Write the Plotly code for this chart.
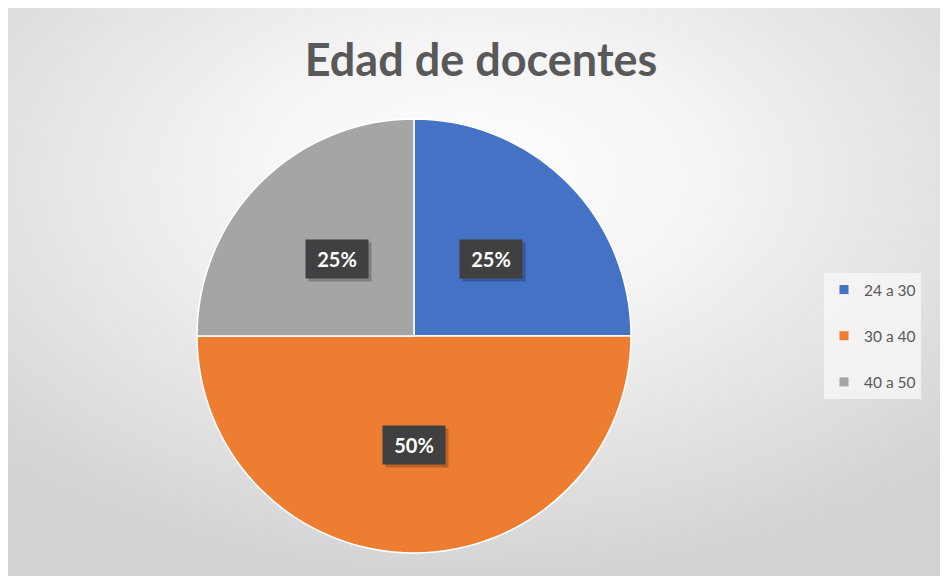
import base64
import math
import plotly.graph_objects as go

# Data
categories = ["24 a 30", "30 a 40", "40 a 50"]
values = [25, 50, 25]
colors = ["#4472C4", "#ED7D31", "#A5A5A5"]
title_text = "Edad de docentes"

# The page body has an 8px margin; work in screen pixels and shift by it.
OFF = 8
W, H = 940, 572


def fx(sx):
    return (sx - OFF) / W


def fy(sy):
    return 1 - (sy - OFF) / H


dom_x = [fx(197), fx(631)]
dom_y = [fy(553), fy(119)]

fig = go.Figure()
fig.add_trace(go.Pie(
    labels=categories, values=values, sort=False, direction="clockwise", rotation=0,
    marker=dict(colors=colors, line=dict(color="#ffffff", width=1.5)),
    textinfo="none", hoverinfo="label+percent", showlegend=False,
    domain=dict(x=dom_x, y=dom_y),
))

# Legend entries (one group each, for spacing)
for cat, col in zip(categories, colors):
    fig.add_trace(go.Scatter(
        x=[None], y=[None], mode="markers", name=cat, legendgroup=cat,
        marker=dict(symbol="square", size=9, color=col),
    ))

# Percentage labels computed from data
total = sum(values)
cx_px = (dom_x[0] + dom_x[1]) / 2 * W
cy_px = (1 - (dom_y[0] + dom_y[1]) / 2) * H
r_px = (dom_x[1] - dom_x[0]) * W / 2
cum = 0
annotations = []
for v in values:
    mid = (cum + v / 2) / total * 2 * math.pi
    cum += v
    px = cx_px + 0.5 * r_px * math.sin(mid)
    py = cy_px - 0.5 * r_px * math.cos(mid)
    txt = f"{round(v / total * 100)}%"
    common = dict(x=px / W, y=1 - py / H, xref="paper", yref="paper", showarrow=False,
                  xanchor="center", yanchor="middle", width=46, height=22, borderpad=8)
    annotations.append(dict(common, text="&nbsp;", bgcolor="rgba(0,0,0,0.22)", xshift=3, yshift=-3,
                            font=dict(family="Lato", size=20, color="rgba(0,0,0,0)")))
    annotations.append(dict(common, text=f"<b>{txt}</b>", bgcolor="#404040",
                            font=dict(family="Lato", size=20, color="#ffffff")))

svg = ('<svg xmlns="http://www.w3.org/2000/svg" width="940" height="569">'
       '<defs><radialGradient id="g" cx="50%" cy="30%" r="72%">'
       '<stop offset="0" stop-color="#ffffff"/><stop offset="0.35" stop-color="#f4f4f4"/>'
       '<stop offset="1" stop-color="#d2d2d2"/></radialGradient></defs>'
       '<rect width="940" height="569" fill="url(#g)"/></svg>')
src = "data:image/svg+xml;base64," + base64.b64encode(svg.encode()).decode()

fig.update_layout(
    width=W, height=H, margin=dict(l=0, r=0, t=0, b=0),
    paper_bgcolor="#ffffff", plot_bgcolor="rgba(0,0,0,0)",
    xaxis=dict(visible=False), yaxis=dict(visible=False),
    title=dict(text=f"<b>{title_text}</b>", x=fx(481), y=fy(60), xanchor="center", yanchor="middle",
               font=dict(family="Lato", size=45, color="#595959")),
    legend=dict(x=fx(824), y=fy(273), xanchor="left", yanchor="top",
                bgcolor="rgba(246,246,246,0.85)", font=dict(family="Lato", size=15.5, color="#595959"),
                traceorder="grouped", tracegroupgap=23, itemclick=False, itemdoubleclick=False),
    annotations=annotations,
    images=[dict(source=src, xref="paper", yref="paper", x=fx(4), y=fy(7),
                 sizex=940 / W, sizey=569 / H, sizing="stretch", layer="below",
                 xanchor="left", yanchor="top")],
)

fig.write_html("out.html")
